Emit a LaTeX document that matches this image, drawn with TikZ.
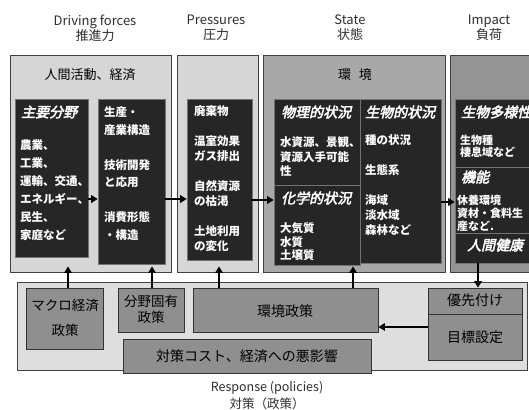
\documentclass[tikz,border=0pt]{standalone}
\usepackage{fontspec}
\setmainfont{Noto Sans CJK JP}
\newfontfamily\ttlfont[FakeSlant=0.22,FakeBold=3]{Noto Sans CJK JP}
\usetikzlibrary{arrows.meta,fit}
\definecolor{hdr}{HTML}{2E2E2E}
\begin{document}
\begin{tikzpicture}[x=1pt,y=-1pt,
  panelL/.style={draw=black!75, fill=black!16, line width=0.8pt, inner sep=0pt},
  panelS/.style={draw=black!75, fill=black!34, line width=0.8pt, inner sep=0pt},
  panelI/.style={draw=black!75, fill=black!42, line width=0.8pt, inner sep=0pt},
  panelR/.style={draw=black!75, fill=black!13, line width=0.8pt, inner sep=0pt},
  dbox/.style={draw=black!55, fill=black!85, line width=0.6pt, inner sep=0pt},
  rbox/.style={draw=black!80, fill=black!44, line width=0.8pt, inner sep=0pt},
  hdrtxt/.style={text=hdr, font=\fontsize{13}{15}\selectfont, align=center, inner sep=0pt},
  wtxt/.style={text=white, font=\bfseries\fontsize{11.5}{18}\selectfont, align=left, anchor=north west, inner sep=0pt},
  ttl/.style={text=white, font=\ttlfont\fontsize{14}{16}\selectfont, anchor=west, inner sep=0pt},
  rtxt/.style={text=black, font=\fontsize{13.5}{16}\selectfont, align=center, inner sep=0pt},
  arr/.style={line width=2pt, -{Triangle[length=6.5pt,width=7.5pt]}}]
\useasboundingbox (0,0) rectangle (529,409);
\clip (0,0) rectangle (529,409);
\fill[white] (0,0) rectangle (529,409);

% headers
\node[hdrtxt] (hDF) at (95,28) {Driving forces\\推進力};
\node[hdrtxt] (hPR) at (216,28) {Pressures\\圧力};
\node[hdrtxt] (hST) at (350,28) {State\\状態};
\node[hdrtxt] (hIM) at (489,28) {Impact\\負荷};

% panels
\node[panelL, fit={(10,55) (171,272)}] (pDF) {};
\node[panelL, fit={(177,55) (258,272)}] (pPR) {};
\node[panelS, fit={(263,55) (445,272)}] (pST) {};
\node[panelI, fit={(450,55) (540,272)}] (pIM) {};

\node[text=black, font=\fontsize{13}{15}\selectfont, inner sep=0pt] (tHA) at (90,75) {人間活動、経済};
\node[text=black, font=\fontsize{13}{15}\selectfont, inner sep=0pt] (tKK) at (355,75) {環\hspace{0.6em}境};

% dark boxes
\node[dbox, fit={(15,99) (88,257)}] (bMain) {};
\node[dbox, fit={(98,99) (165,264)}] (bProd) {};
\node[dbox, fit={(187,99) (252,260)}] (bPres) {};
\node[dbox, fit={(274,99) (360,185)}] (bPhys) {};
\node[dbox, fit={(274,185) (360,265)}] (bChem) {};
\node[dbox, fit={(360,99) (441,263)}] (bBio) {};
\node[dbox, fit={(455,99) (540,167)}] (bDiv) {};
\node[dbox, fit={(455,167) (540,233)}] (bFunc) {};
\node[dbox, fit={(455,233) (540,263)}] (bHealth) {};

% dark box texts
\node[ttl] (tMain) at (21,112) {主要分野};
\node[wtxt] (xMain) at (20,139.5) {農業、\\工業、\\運輸、交通、\\エネルギー、\\民生、\\家庭など};
\node[wtxt, font=\bfseries\fontsize{11.5}{17.5}\selectfont] (xProd) at (104,106.5) {生産・\\産業構造\\[17.5pt]技術開発\\と応用\\[17.5pt]消費形態\\・構造};
\node[wtxt, font=\bfseries\fontsize{11.5}{15}\selectfont] (xPres) at (194,105.5) {廃棄物\\[15pt]温室効果\\ガス排出\\[15pt]自然資源\\の枯渇\\[15pt]土地利用\\の変化};
\node[ttl] (tPhys) at (281,112) {物理的状況};
\node[wtxt, font=\bfseries\fontsize{11.5}{14.5}\selectfont] (xPhys) at (280,136.5) {水資源、景観、\\資源入手可能\\性};
\node[ttl] (tChem) at (281,198) {化学的状況};
\node[wtxt, font=\bfseries\fontsize{11.5}{13.5}\selectfont] (xChem) at (280,222.5) {大気質\\水質\\土壌質};
\node[ttl] (tBio) at (365,112) {生物的状況};
\node[wtxt, font=\bfseries\fontsize{11.5}{15}\selectfont] (xBio) at (365,134.5) {種の状況\\[15pt]生態系\\[15pt]海域\\淡水域\\森林など};
\node[ttl] (tDiv) at (461,112) {生物多様性};
\node[wtxt, font=\bfseries\fontsize{11}{12.5}\selectfont] (xDiv) at (460,134.5) {生物種\\棲息域など};
\node[ttl] (tFunc) at (461,177) {機能};
\node[wtxt, font=\bfseries\fontsize{11}{13}\selectfont] (xFunc) at (457,194.5) {休養環境\\資材・食料生\\産など.};
\node[ttl] (tHealth) at (467,245) {人間健康};

% response
\node[panelR, fit={(17,282) (527,370)}] (pRE) {};
\node[rbox, fit={(26,288) (103,349)}] (rMacro) {};
\node[rbox, fit={(118,288) (184,332)}] (rSect) {};
\node[rbox, fit={(193,288) (378,332)}] (rEnv) {};
\node[rbox, fit={(123,339) (371,373)}] (rCost) {};
\node[rbox, fit={(428,288) (522,314)}] (rPrio) {};
\node[rbox, fit={(428,314) (522,360)}] (rGoal) {};

\node[rtxt, font=\fontsize{13.5}{25}\selectfont] (xMacro) at (65,317.5) {マクロ経済\\政策};
\node[rtxt, font=\fontsize{13.5}{16}\selectfont] (xSect) at (151,309) {分野固有\\政策};
\node[rtxt, font=\fontsize{14}{16}\selectfont] (xEnv) at (285,311) {環境政策};
\node[rtxt, font=\fontsize{14}{16}\selectfont] (xCost) at (247,356) {対策コスト、経済への悪影響};
\node[rtxt, font=\fontsize{14}{16}\selectfont] (xPrio) at (475,300.5) {優先付け};
\node[rtxt, font=\fontsize{14}{16}\selectfont] (xGoal) at (475,337) {目標設定};

\node[hdrtxt, font=\fontsize{12.5}{16.5}\selectfont] (hRE) at (267,395.5) {Response (policies)\\対策（政策）};

% arrows
\coordinate (y199) at (0,199);
\coordinate (y200) at (0,200);
\coordinate (y202) at (0,202);
\coordinate (y327) at (0,327);
\draw[arr] (bMain.east |- y199) -- (bProd.west |- y199);
\draw[arr] (bProd.east |- y199) -- (bPres.west |- y199);
\draw[arr] (bPres.east |- y200) -- (bChem.west |- y200);
\draw[arr] (bBio.east |- y202) -- (bFunc.west |- y202);

\coordinate (uMacro) at (68,288);
\coordinate (uSect) at (152,288);
\coordinate (uPres) at (219,288);
\coordinate (uEnv) at (353,288);
\draw[arr] (uMacro) -- ([yshift=6pt]uMacro |- pDF.south);
\draw[arr] (uSect) -- ([yshift=6pt]uSect |- pDF.south);
\draw[arr] (uPres) -- ([yshift=6pt]uPres |- pPR.south);
\draw[arr] (uEnv) -- ([yshift=6pt]uEnv |- pST.south);
\draw[arr] ([xshift=3pt]rPrio.north |- bHealth.south) -- ([xshift=3pt]rPrio.north);
\draw[arr, line width=1.6pt] (rGoal.west |- y327) -- (rEnv.east |- y327);
\end{tikzpicture}
\end{document}
